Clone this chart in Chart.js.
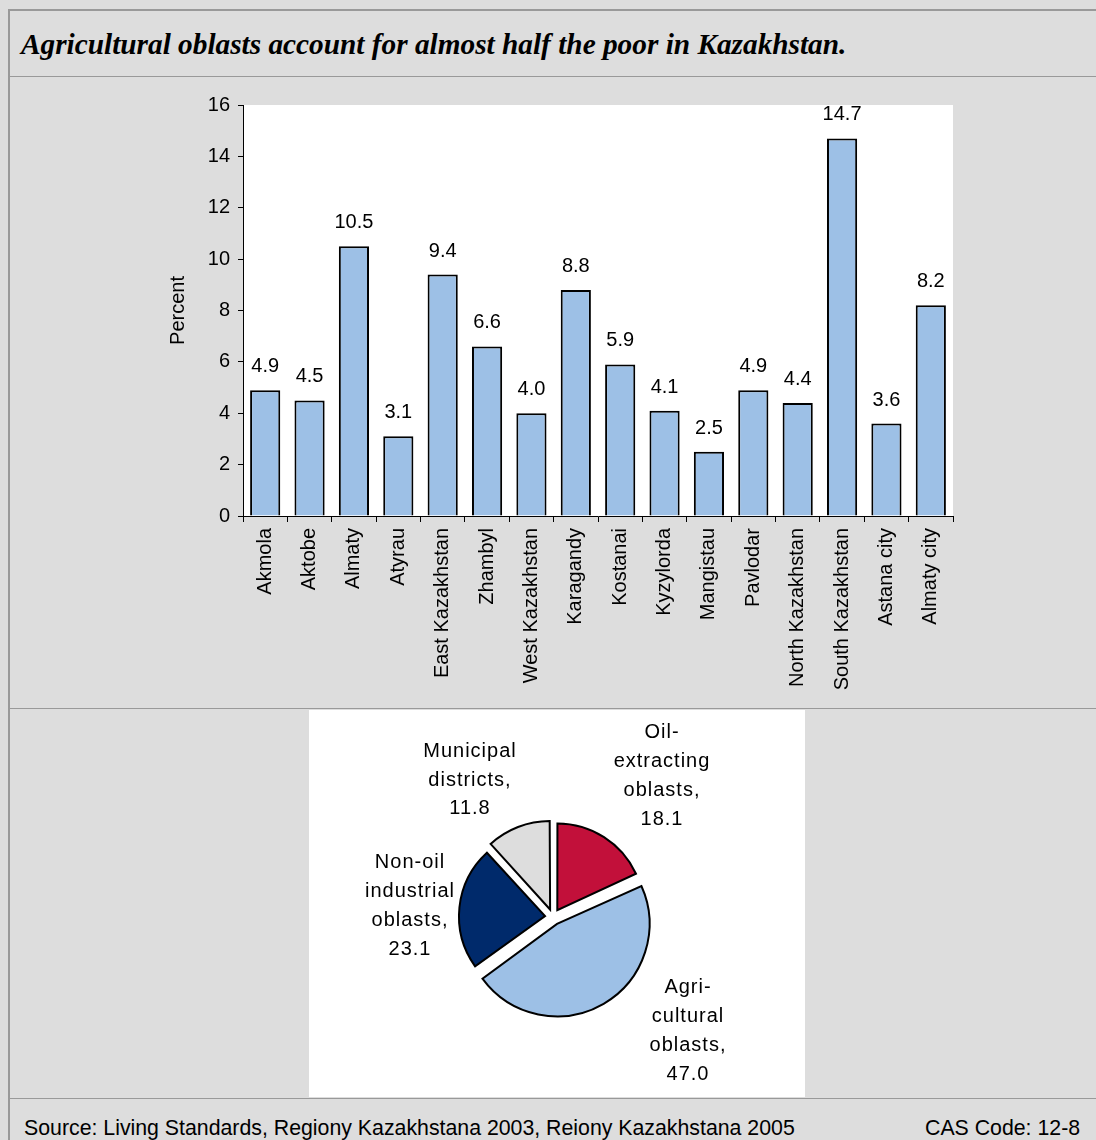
<!DOCTYPE html>
<html>
<head>
<meta charset="utf-8">
<script src="https://cdn.jsdelivr.net/npm/chart.js@4/dist/chart.umd.min.js"></script>
<style>
  html, body { margin: 0; padding: 0; }
  body {
    width: 1096px; height: 1140px; overflow: hidden; position: relative;
    background: #dddddd; font-family: Arial, "Liberation Sans", sans-serif;
  }
  .rule { position: absolute; background: #999999; }
  #title {
    position: absolute; left: 21px; top: 28px; line-height: 29px;
    font: italic bold 29.3px "Times New Roman", "Liberation Serif", serif;
    color: #000; white-space: nowrap;
  }
  #barBox { position: absolute; left: 150px; top: 85px; width: 830px; height: 620px; }
  #pieBox { position: absolute; left: 309px; top: 710px; width: 496px; height: 387px; background: #fff; }
  .foot { position: absolute; top: 1116px; font-size: 21.3px; color: #000; white-space: nowrap; }
</style>
</head>
<body>
<div class="rule" style="left:8px; top:9px; width:2px; height:1131px;"></div>
<div class="rule" style="left:8px; top:9px; right:0; height:2px;"></div>
<div class="rule" style="left:9px; top:76px; right:0; height:1px;"></div>
<div class="rule" style="left:9px; top:708px; right:0; height:1px;"></div>
<div class="rule" style="left:9px; top:1098px; right:0; height:1px;"></div>

<div id="title">Agricultural oblasts account for almost half the poor in Kazakhstan.</div>

<div id="barBox"><canvas id="bars" width="830" height="620"></canvas></div>
<div id="pieBox"><canvas id="pie" width="496" height="387"></canvas></div>

<div class="foot" style="left:24px;">Source: Living Standards, Regiony Kazakhstana 2003, Reiony Kazakhstana 2005</div>
<div class="foot" style="left:925px;">CAS Code: 12-8</div>

<script>
// share of the poor by oblast, percent
const regions = ['Akmola', 'Aktobe', 'Almaty', 'Atyrau', 'East Kazakhstan', 'Zhambyl',
  'West Kazakhstan', 'Karagandy', 'Kostanai', 'Kyzylorda', 'Mangistau', 'Pavlodar',
  'North Kazakhstan', 'South Kazakhstan', 'Astana city', 'Almaty city'];
const poorShare = [4.9, 4.5, 10.5, 3.1, 9.4, 6.6, 4.0, 8.8, 5.9, 4.1, 2.5, 4.9, 4.4, 14.7, 3.6, 8.2];
const yTicks = [0, 2, 4, 6, 8, 10, 12, 14, 16];

// share of the poor by oblast group
const groupLines = [['Oil-', 'extracting', 'oblasts,'], ['Agri-', 'cultural', 'oblasts,'],
  ['Non-oil', 'industrial', 'oblasts,'], ['Municipal', 'districts,']];
const groupShare = [18.1, 47.0, 23.1, 11.8];

const FONT = 'Arial, "Liberation Sans", sans-serif';
const groupColors = ['#c2103a', '#9dc0e6', '#002a6b', '#dddddd'];
// label block centres relative to the pie centre
const groupLabelAt = [[109, -141], [135, 114], [-143, -11], [-83, -137]];

Chart.defaults.font.family = FONT;
Chart.defaults.color = '#000';

const plotBackground = {
  id: 'plotBackground',
  beforeDraw(chart) {
    const { ctx, chartArea: a } = chart;
    ctx.save();
    ctx.fillStyle = '#fff';
    ctx.fillRect(a.left, a.top, a.right - a.left, a.bottom - a.top);
    ctx.restore();
  },
};

const barValues = {
  id: 'barValues',
  afterDatasetsDraw(chart) {
    const { ctx } = chart;
    const meta = chart.getDatasetMeta(0);
    ctx.save();
    ctx.font = '20px ' + FONT;
    ctx.fillStyle = '#000';
    ctx.textAlign = 'center';
    ctx.textBaseline = 'alphabetic';
    meta.data.forEach((bar, i) => {
      ctx.fillText(poorShare[i].toFixed(1), bar.x, bar.y - 18);
    });
    ctx.restore();
  },
};

new Chart(document.getElementById('bars'), {
  type: 'bar',
  data: {
    labels: regions,
    datasets: [{
      data: poorShare,
      backgroundColor: '#9dc0e6',
      borderColor: '#000',
      borderWidth: 2,
      barPercentage: 0.68,
      categoryPercentage: 1,
    }],
  },
  options: {
    responsive: false,
    animation: false,
    layout: { padding: { top: 0, right: 27, left: 0, bottom: 0 } },
    plugins: { legend: { display: false }, tooltip: { enabled: false } },
    scales: {
      x: {
        afterFit: (s) => { s.height = 189; },
        grid: { offset: true, drawOnChartArea: false, tickLength: 6, color: '#000' },
        border: { color: '#000', width: 1 },
        ticks: { autoSkip: false, minRotation: 90, maxRotation: 90, padding: 6,
                 font: { size: 20 } },
      },
      y: {
        min: 0, max: 16,
        afterFit: (s) => { s.width = 93; },
        afterBuildTicks: (s) => { s.ticks = yTicks.map((v) => ({ value: v })); },
        grid: { drawOnChartArea: false, tickLength: 5, color: '#000' },
        border: { color: '#000', width: 1 },
        ticks: { padding: 8, font: { size: 20 } },
        title: { display: true, text: 'Percent', font: { size: 20 }, padding: { top: 16 } },
      },
    },
  },
  plugins: [plotBackground, barValues],
});

const pieLabels = {
  id: 'pieLabels',
  afterDatasetsDraw(chart) {
    const { ctx } = chart;
    const arc = chart.getDatasetMeta(0).data[0];
    const lh = 28.7;
    ctx.save();
    ctx.font = '20px ' + FONT;
    ctx.letterSpacing = '1px';
    ctx.fillStyle = '#000';
    ctx.textAlign = 'center';
    ctx.textBaseline = 'middle';
    groupLines.forEach((lines, i) => {
      const all = lines.concat(groupShare[i].toFixed(1));
      const cx = arc.x + groupLabelAt[i][0];
      const top = arc.y + groupLabelAt[i][1] - (all.length - 1) * lh / 2;
      all.forEach((t, k) => ctx.fillText(t, cx, top + k * lh));
    });
    ctx.restore();
  },
};

new Chart(document.getElementById('pie'), {
  type: 'pie',
  data: {
    labels: groupLines.map((l) => l.join(' ')),
    datasets: [{
      data: groupShare,
      backgroundColor: groupColors,
      borderColor: '#000',
      borderWidth: 2,
      borderJoinStyle: 'miter',
      // arcs shift by offset / 4, so this pulls each slice out ~8px
      offset: 32,
    }],
  },
  options: {
    responsive: false,
    animation: false,
    radius: 86,
    layout: { padding: { top: 27, right: 8 } },
    plugins: { legend: { display: false }, tooltip: { enabled: false } },
  },
  plugins: [pieLabels],
});
</script>
</body>
</html>
